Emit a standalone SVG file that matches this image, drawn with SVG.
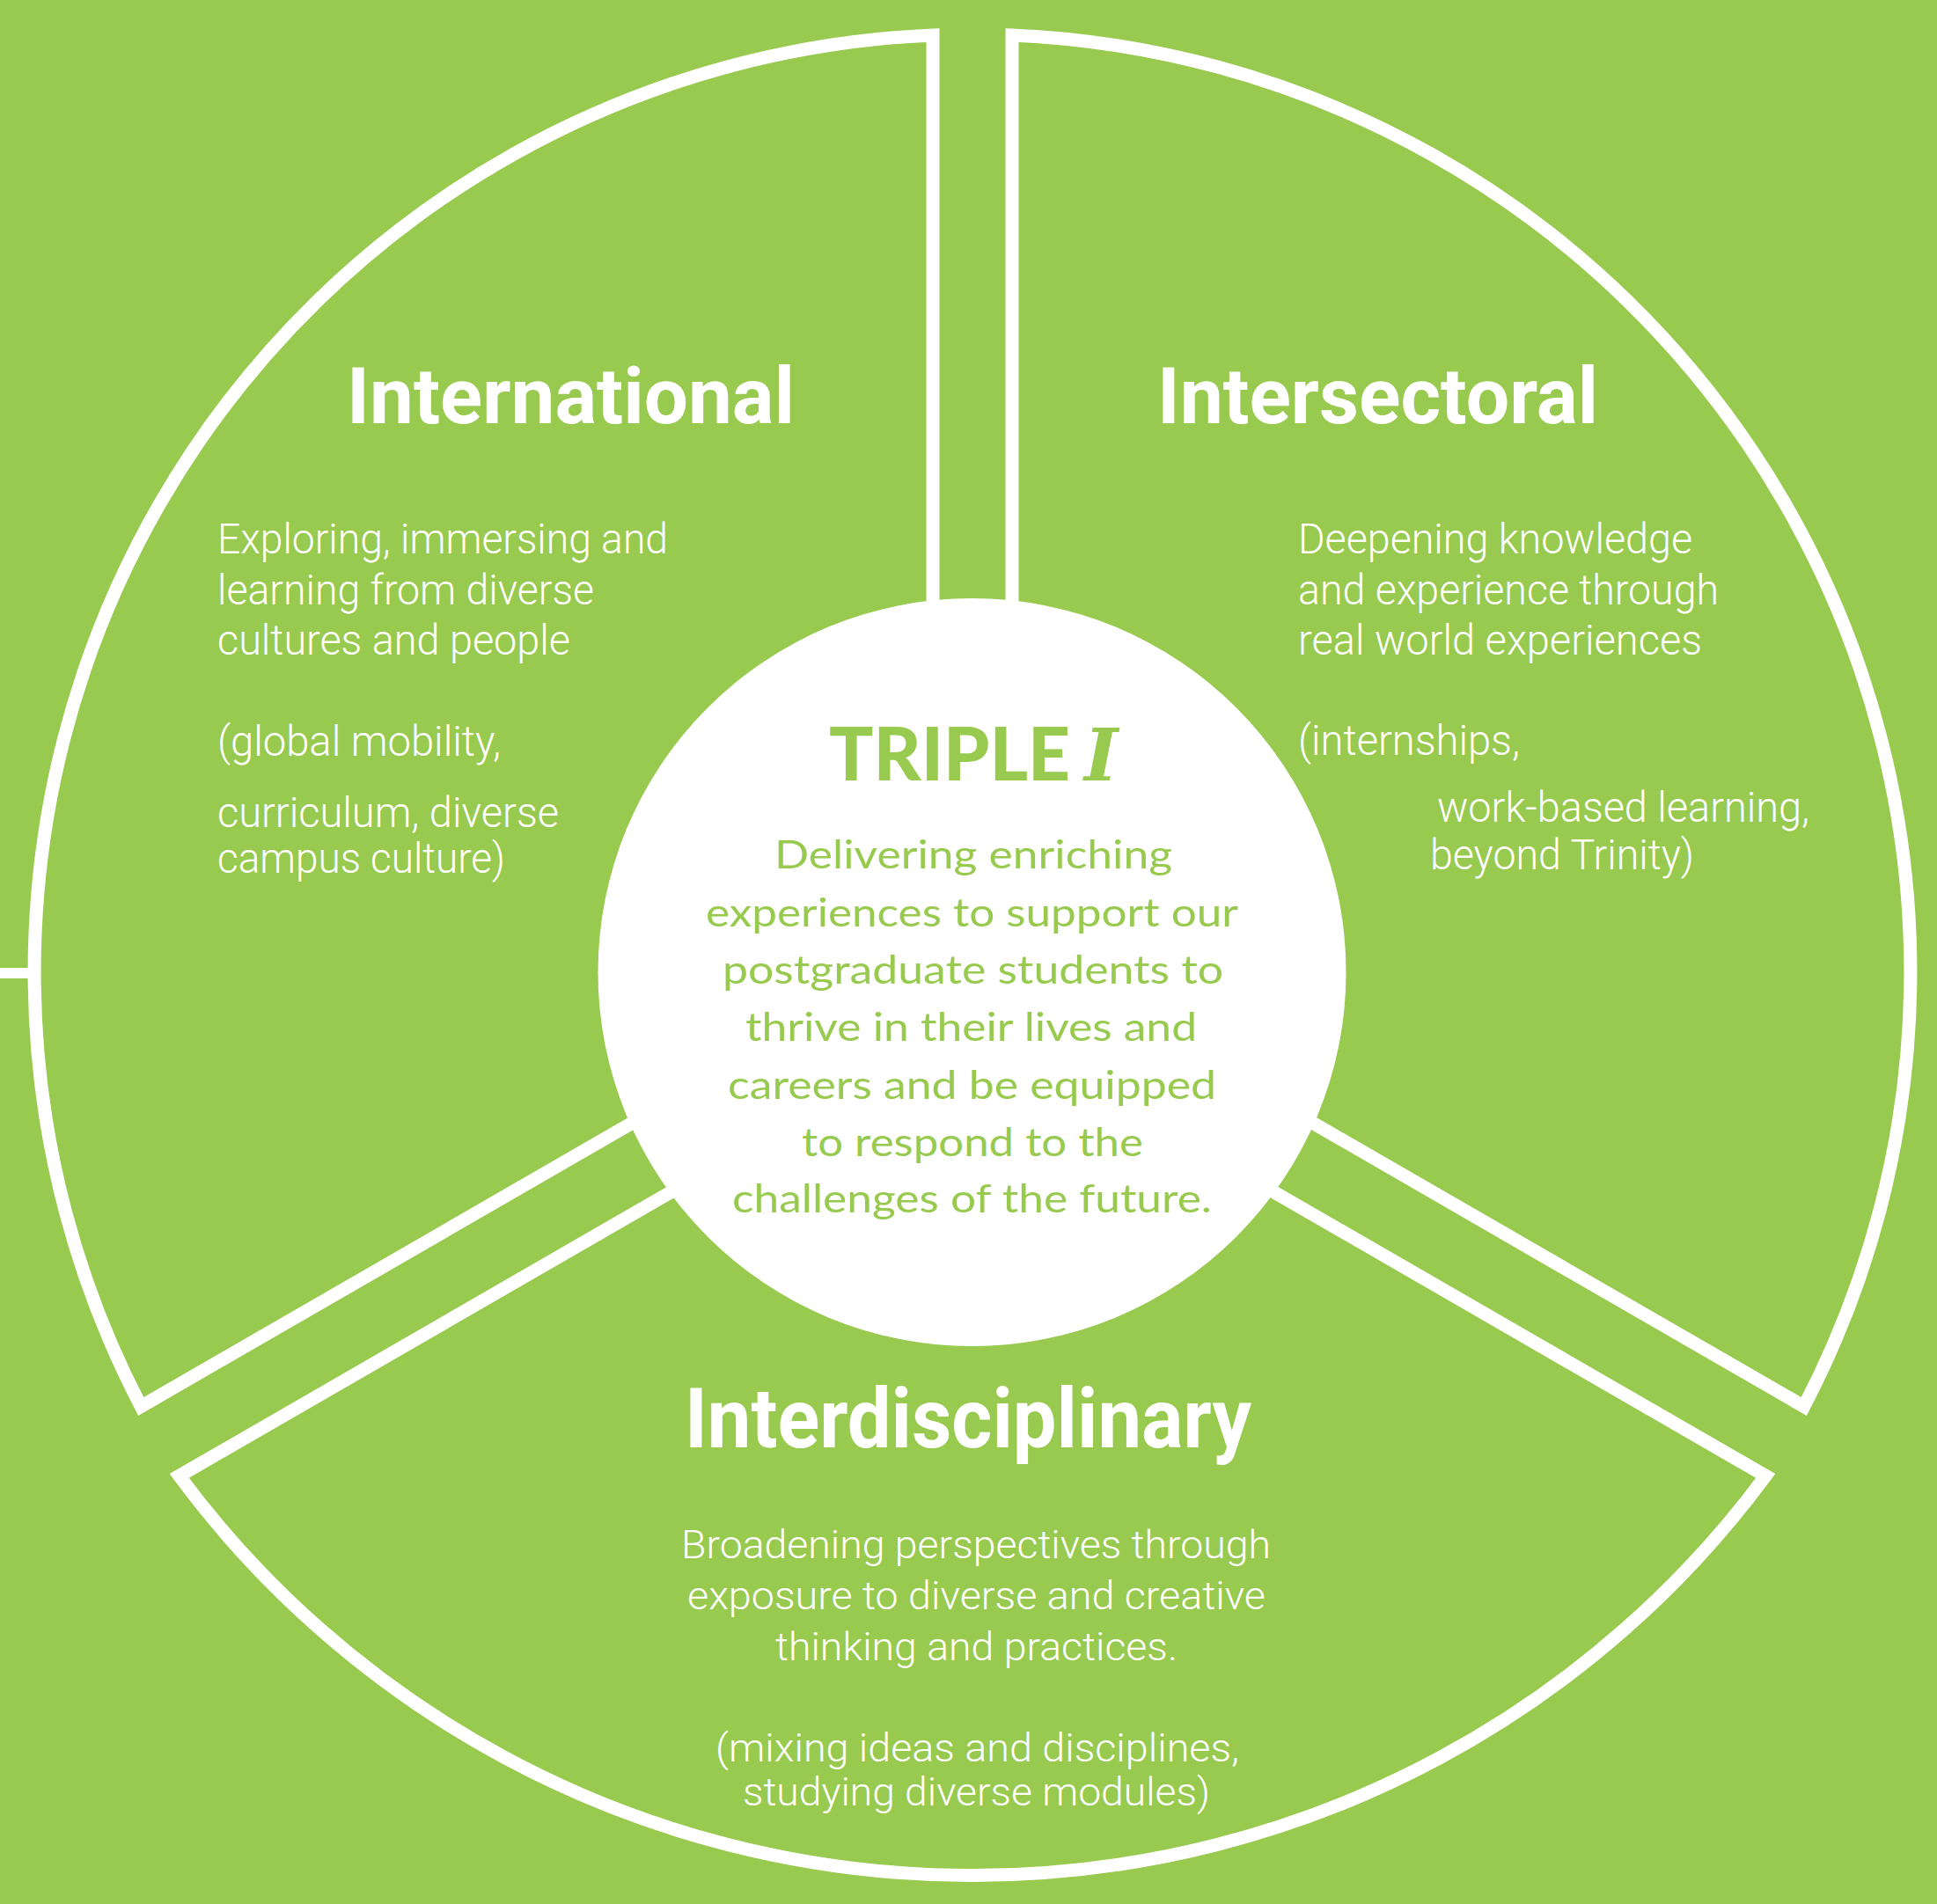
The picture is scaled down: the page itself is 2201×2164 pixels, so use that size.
<svg xmlns="http://www.w3.org/2000/svg" width="2201" height="2164" viewBox="0 0 2201 2164">
<style>
.sector{fill:none;stroke:#fff;stroke-width:15;stroke-linejoin:miter;stroke-miterlimit:10}
.title{font-family:Roboto,"Liberation Sans",sans-serif;font-weight:700;fill:#fff}
.body{font-family:Roboto,"Liberation Sans",sans-serif;font-weight:300;fill:#fff;font-size:48px}
.body2{font-family:Roboto,"Liberation Sans",sans-serif;font-weight:300;fill:#fff;font-size:44px}
.ctext{font-family:Lato,"Open Sans",sans-serif;font-weight:400;fill:#98CA4F;font-size:45px}
</style>
<rect x="0" y="0" width="2201" height="2164" fill="#98CA4F"/>
<g id="decor">
<line x1="0" y1="1106" x2="36" y2="1106" stroke="#fff" stroke-width="12"/>
</g>
<g id="connectors"></g>
<g id="node-international">
<path class="sector" d="M 1060 1079 L 1060 39.95 A 1066 1066 0 0 0 160.2 1598.5 Z"/>
<text class="title" x="394" y="481" font-size="89" textLength="509" lengthAdjust="spacingAndGlyphs">International</text>
<text class="body" x="247" y="629" textLength="512" lengthAdjust="spacingAndGlyphs">Exploring, immersing and</text>
<text class="body" x="247" y="687" textLength="428" lengthAdjust="spacingAndGlyphs">learning from diverse</text>
<text class="body" x="247" y="744" textLength="401" lengthAdjust="spacingAndGlyphs">cultures and people</text>
<text class="body" x="247" y="859" textLength="322" lengthAdjust="spacingAndGlyphs">(global mobility,</text>
<text class="body" x="247" y="940" textLength="388" lengthAdjust="spacingAndGlyphs">curriculum, diverse</text>
<text class="body" x="247" y="992" textLength="327" lengthAdjust="spacingAndGlyphs">campus culture)</text>
</g>
<g id="node-intersectoral">
<path class="sector" d="M 1150 1079 L 1150 39.95 A 1066 1066 0 0 1 2049.8 1598.5 Z"/>
<text class="title" x="1315" y="481" font-size="89" textLength="501" lengthAdjust="spacingAndGlyphs">Intersectoral</text>
<text class="body" x="1475" y="629" textLength="448" lengthAdjust="spacingAndGlyphs">Deepening knowledge</text>
<text class="body" x="1475" y="687" textLength="478" lengthAdjust="spacingAndGlyphs">and experience through</text>
<text class="body" x="1475" y="744" textLength="459" lengthAdjust="spacingAndGlyphs">real world experiences</text>
<text class="body" x="1475" y="858" textLength="252" lengthAdjust="spacingAndGlyphs">(internships,</text>
<text class="body" x="1633" y="934" textLength="423" lengthAdjust="spacingAndGlyphs">work-based learning,</text>
<text class="body" x="1625" y="988" textLength="300" lengthAdjust="spacingAndGlyphs">beyond Trinity)</text>
</g>
<g id="node-interdisciplinary">
<path class="sector" d="M 1105 1157 L 203.7 1677.4 A 1121.5 1121.5 0 0 0 2006.3 1677.4 Z"/>
<text class="title" x="778" y="1645" font-size="94" textLength="644" lengthAdjust="spacingAndGlyphs">Interdisciplinary</text>
<text class="body2" x="774" y="1771" textLength="670" lengthAdjust="spacingAndGlyphs">Broadening perspectives through</text>
<text class="body2" x="781" y="1829" textLength="657" lengthAdjust="spacingAndGlyphs">exposure to diverse and creative</text>
<text class="body2" x="881" y="1887" textLength="457" lengthAdjust="spacingAndGlyphs">thinking and practices.</text>
<text class="body2" x="813" y="2002" textLength="595" lengthAdjust="spacingAndGlyphs">(mixing ideas and disciplines,</text>
<text class="body2" x="844" y="2052" textLength="531" lengthAdjust="spacingAndGlyphs">studying diverse modules)</text>
</g>
<g id="node-center">
<circle cx="1104.5" cy="1105" r="425" fill="#fff"/>
<text y="887" fill="#98CA4F"><tspan x="942" font-family="Lato,'Liberation Sans',sans-serif" font-weight="900" font-size="84" textLength="274" lengthAdjust="spacingAndGlyphs">TRIPLE</tspan> <tspan x="1232" font-family="'DejaVu Serif',serif" font-weight="700" font-style="italic" font-size="82">I</tspan></text>
<text class="ctext" x="880" y="987" textLength="452" lengthAdjust="spacingAndGlyphs">Delivering enriching</text>
<text class="ctext" x="802" y="1053" textLength="605" lengthAdjust="spacingAndGlyphs">experiences to support our</text>
<text class="ctext" x="821" y="1118" textLength="569" lengthAdjust="spacingAndGlyphs">postgraduate students to</text>
<text class="ctext" x="847" y="1183" textLength="513" lengthAdjust="spacingAndGlyphs">thrive in their lives and</text>
<text class="ctext" x="827" y="1249" textLength="555" lengthAdjust="spacingAndGlyphs">careers and be equipped</text>
<text class="ctext" x="911" y="1314" textLength="388" lengthAdjust="spacingAndGlyphs">to respond to the</text>
<text class="ctext" x="832" y="1378" textLength="545" lengthAdjust="spacingAndGlyphs">challenges of the future.</text>
</g>
</svg>
